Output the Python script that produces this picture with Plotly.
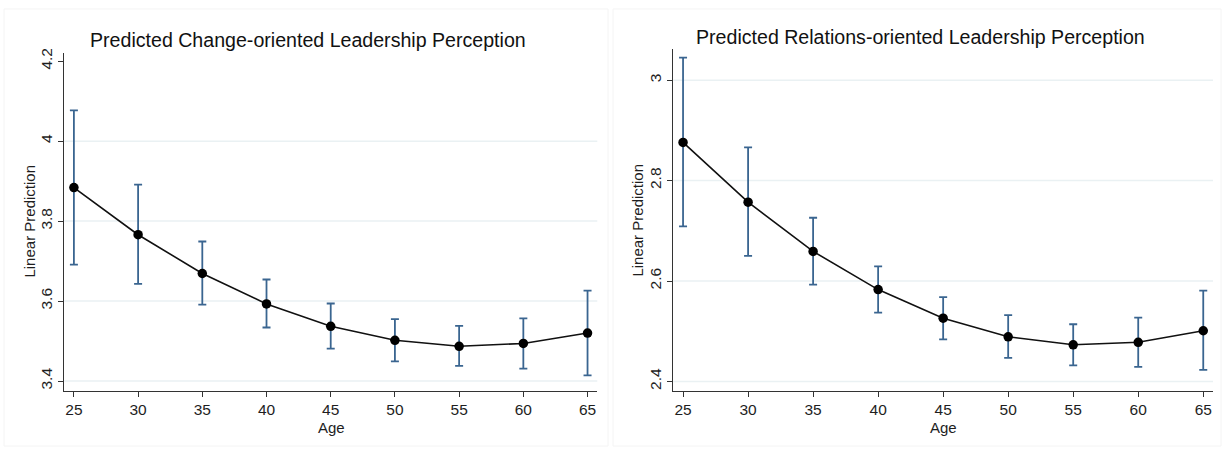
import plotly.graph_objects as go

ages = [25, 30, 35, 40, 45, 50, 55, 60, 65]

change_pred = [3.884, 3.766, 3.669, 3.593, 3.537, 3.502, 3.487, 3.494, 3.520]
change_upper = [4.077, 3.891, 3.749, 3.654, 3.594, 3.555, 3.538, 3.557, 3.626]
change_lower = [3.691, 3.643, 3.591, 3.534, 3.481, 3.449, 3.438, 3.431, 3.414]

rel_pred = [2.876, 2.757, 2.659, 2.583, 2.526, 2.489, 2.473, 2.478, 2.501]
rel_upper = [3.045, 2.866, 2.726, 2.629, 2.568, 2.532, 2.514, 2.527, 2.581]
rel_lower = [2.709, 2.650, 2.593, 2.537, 2.484, 2.447, 2.432, 2.429, 2.423]

change_ticks = [3.4, 3.6, 3.8, 4.0, 4.2]
change_ticklabels = ["3.4", "3.6", "3.8", "4", "4.2"]
change_grid = [3.4, 3.6, 3.8, 4.0]
rel_ticks = [2.4, 2.6, 2.8, 3.0]
rel_ticklabels = ["2.4", "2.6", "2.8", "3"]
rel_grid = [2.4, 2.6, 2.8, 3.0]

titles = ["Predicted Change-oriented Leadership Perception",
          "Predicted Relations-oriented Leadership Perception"]
x_title = "Age"
y_title = "Linear Prediction"

ERR_COLOR = "#3a6590"
FONT = "Liberation Sans, Arial, sans-serif"
TXT = "#1e1e1e"
W, H = 1224, 450

fig = go.Figure()

def add_panel(pred, upper, lower, grid, xa, ya):
    for g in grid:
        fig.add_shape(type="line", xref=xa + " domain", yref=ya,
                      x0=0, x1=1, y0=g, y1=g,
                      line=dict(color="#eaf1f3", width=1.5), layer="below")
    fig.add_trace(go.Scatter(
        x=ages, y=pred, xaxis=xa, yaxis=ya,
        mode="lines+markers",
        line=dict(color="#111111", width=1.6),
        marker=dict(color="#000000", size=9.5),
        error_y=dict(type="data", symmetric=False,
                     array=[u - p for u, p in zip(upper, pred)],
                     arrayminus=[p - l for p, l in zip(pred, lower)],
                     color=ERR_COLOR, thickness=1.8, width=4),
        showlegend=False, hoverinfo="x+y",
    ))

add_panel(change_pred, change_upper, change_lower, change_grid, "x", "y")
add_panel(rel_pred, rel_upper, rel_lower, rel_grid, "x2", "y2")

axis_common = dict(
    showline=True, linecolor="#333333", linewidth=1,
    ticks="outside", ticklen=5, tickcolor="#333333",
    tickfont=dict(family=FONT, size=15.5, color=TXT),
    zeroline=False, showgrid=False,
)

xaxis_common = dict(axis_common, tickvals=ages, ticktext=[str(a) for a in ages])
yaxis_common = dict(axis_common, tickangle=-90)

def txt(text, px, py, size, angle=0, color=TXT):
    return dict(text=text, x=px / W, y=1 - py / H, xref="paper", yref="paper",
                xanchor="center", yanchor="middle", textangle=angle,
                showarrow=False, font=dict(family=FONT, size=size, color=color))

fig.update_layout(
    width=W, height=H,
    margin=dict(l=0, r=0, t=0, b=0),
    paper_bgcolor="white", plot_bgcolor="white",
    xaxis=dict(xaxis_common, domain=[64.2 / W, 597.3 / W], range=[24.245, 65.76], anchor="y"),
    yaxis=dict(yaxis_common, domain=[1 - 390 / H, 1 - 48.3 / H], range=[3.376, 4.221],
               tickvals=change_ticks, ticktext=change_ticklabels, anchor="x"),
    xaxis2=dict(xaxis_common, domain=[673.3 / W, 1213 / W], range=[24.25, 65.75], anchor="y2"),
    yaxis2=dict(yaxis_common, domain=[1 - 390 / H, 1 - 44.3 / H], range=[2.3817, 3.0624],
                tickvals=rel_ticks, ticktext=rel_ticklabels, anchor="x2"),
    annotations=[
        txt(titles[0], 308, 35, 19.6, color="#111111"),
        txt(titles[1], 920, 32, 19.6, color="#111111"),
        txt(x_title, 331, 427, 15),
        txt(x_title, 943, 427, 15),
        txt(y_title, 30, 219, 15, angle=-90),
        txt(y_title, 638, 218, 15, angle=-90),
    ],
)

# faint panel frames
fig.add_shape(type="rect", xref="paper", yref="paper",
              x0=4 / W, x1=608 / W, y0=1 - 446 / H, y1=1 - 4 / H,
              line=dict(color="#f4f4f4", width=1))
fig.add_shape(type="rect", xref="paper", yref="paper",
              x0=613 / W, x1=1221 / W, y0=1 - 446 / H, y1=1 - 4 / H,
              line=dict(color="#f4f4f4", width=1))

fig.write_html("out.html")
